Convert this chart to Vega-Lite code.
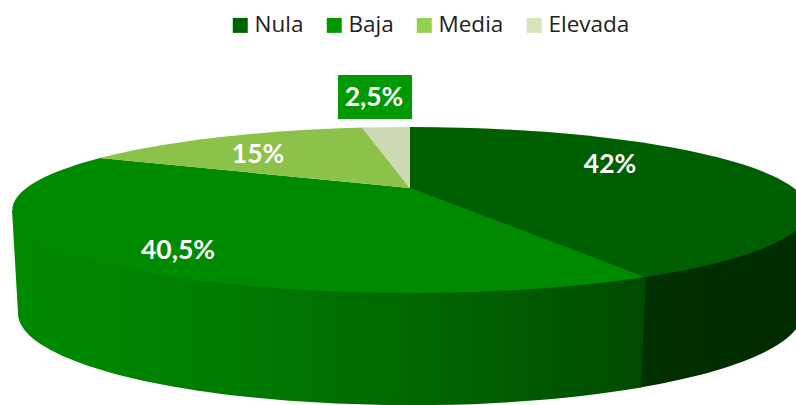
{
"$schema":"https://vega.github.io/schema/vega-lite/v6.json",
"width":796,"height":405,"autosize":"none","padding":0,"background":"white",
"data":{"values":[
{"categoria":"Nula","valor":42,"etiqueta":"42%"},
{"categoria":"Baja","valor":40.5,"etiqueta":"40,5%"},
{"categoria":"Media","valor":15,"etiqueta":"15%"},
{"categoria":"Elevada","valor":2.5,"etiqueta":"2,5%"}
]},
"config":{"view":{"stroke":null}},
"resolve":{"scale":{"shape":"independent","fill":"independent"},"legend":{"color":"independent","shape":"independent","fill":"independent"}},
"layer":[
{"mark":{"type":"point","filled":true,"size":1,"opacity":1},
 "encoding":{"color":{"field":"categoria","type":"nominal","sort":null,
  "scale":{"domain":["Nula","Baja","Media","Elevada"],"range":["#006400","#009900","#92d050","#d8e4bc"]},
  "legend":{"title":null,"orient":"none","legendX":229,"legendY":14,"direction":"horizontal","columns":4,"symbolType":"square","symbolSize":225,"symbolOpacity":1,"symbolStrokeWidth":0,"labelFont":"Open Sans","labelFontSize":22.5,"labelColor":"#222222","labelLimit":200,"columnPadding":19,"labelOffset":3,"symbolOffset":0,"padding":0}}}},
{"transform":[{"filter":"datum.categoria==='Nula'"}],
 "mark":{"type":"point","filled":true,"size":4,"opacity":1,"strokeWidth":0,"color":{"gradient":"linear","x1":0,"x2":1,"y1":0,"y2":0,"stops":[{"offset":0,"color":"#003400"},{"offset":1,"color":"#002c00"}]}},
 "encoding":{"shape":{"value":"M247,74.5 L12,-14.5 L410,7.5 L404,110.5 A392,92 0 0 1 242,185 Z"}}},
{"transform":[{"filter":"datum.categoria==='Baja'"}],
 "mark":{"type":"point","filled":true,"size":4,"opacity":1,"strokeWidth":0,"color":{"gradient":"linear","x1":0,"x2":1,"y1":0,"y2":0,"stops":[{"offset":0,"color":"#008a00"},{"offset":0.15,"color":"#008600"},{"offset":0.45,"color":"#007400"},{"offset":0.75,"color":"#005f00"},{"offset":1,"color":"#004a00"}]}},
 "encoding":{"shape":{"value":"M248,74.5 L12,-14.5 L-386,7.5 L-380,110.5 A392,92 0 0 0 243,185 Z"}}},
{"mark":{"type":"point","filled":true,"size":4,"opacity":1,"strokeOpacity":0},
 "encoding":{
  "fill":{"field":"categoria","type":"nominal","legend":null,"scale":{"domain":["Nula","Baja","Media","Elevada"],"range":["#005f00","#008a00","#8cc24a","#cdd8b4"]}},
  "shape":{"field":"categoria","type":"nominal","legend":null,"scale":{"domain":["Nula","Baja","Media","Elevada"],"range":[
   "M12,-14.5 L12,-75.5 A398,83 0 0 1 247,74.5 Z",
   "M12,-14.5 L247,74.5 A398,83 0 0 1 -298,-44.5 Z",
   "M12,-14.5 L-298,-44.5 A398,83 0 0 1 -36,-74.9 Z",
   "M12,-14.5 L-36,-74.9 A398,83 0 0 1 12,-75.5 Z"]}}}},
{"transform":[{"filter":"datum.categoria==='Elevada'"}],
 "mark":{"type":"point","filled":true,"size":4,"opacity":1,"color":"#009900"},
 "encoding":{"shape":{"value":"M-60,-127.5 L14,-127.5 L14,-83.5 L-60,-83.5 Z"}}},
{"mark":{"type":"text","font":"Lato","fontWeight":"bold","fontSize":26.5,"color":"white","align":"center","baseline":"middle"},
 "encoding":{
  "text":{"field":"etiqueta","type":"nominal"},
  "x":{"field":"valor","type":"quantitative","axis":null,"scale":{"domain":[2.5,15,40.5,42],"range":[374,258,178,610]}},
  "y":{"field":"valor","type":"quantitative","axis":null,"scale":{"domain":[2.5,15,40.5,42],"range":[98,155,251,165]}}}}
]
}
